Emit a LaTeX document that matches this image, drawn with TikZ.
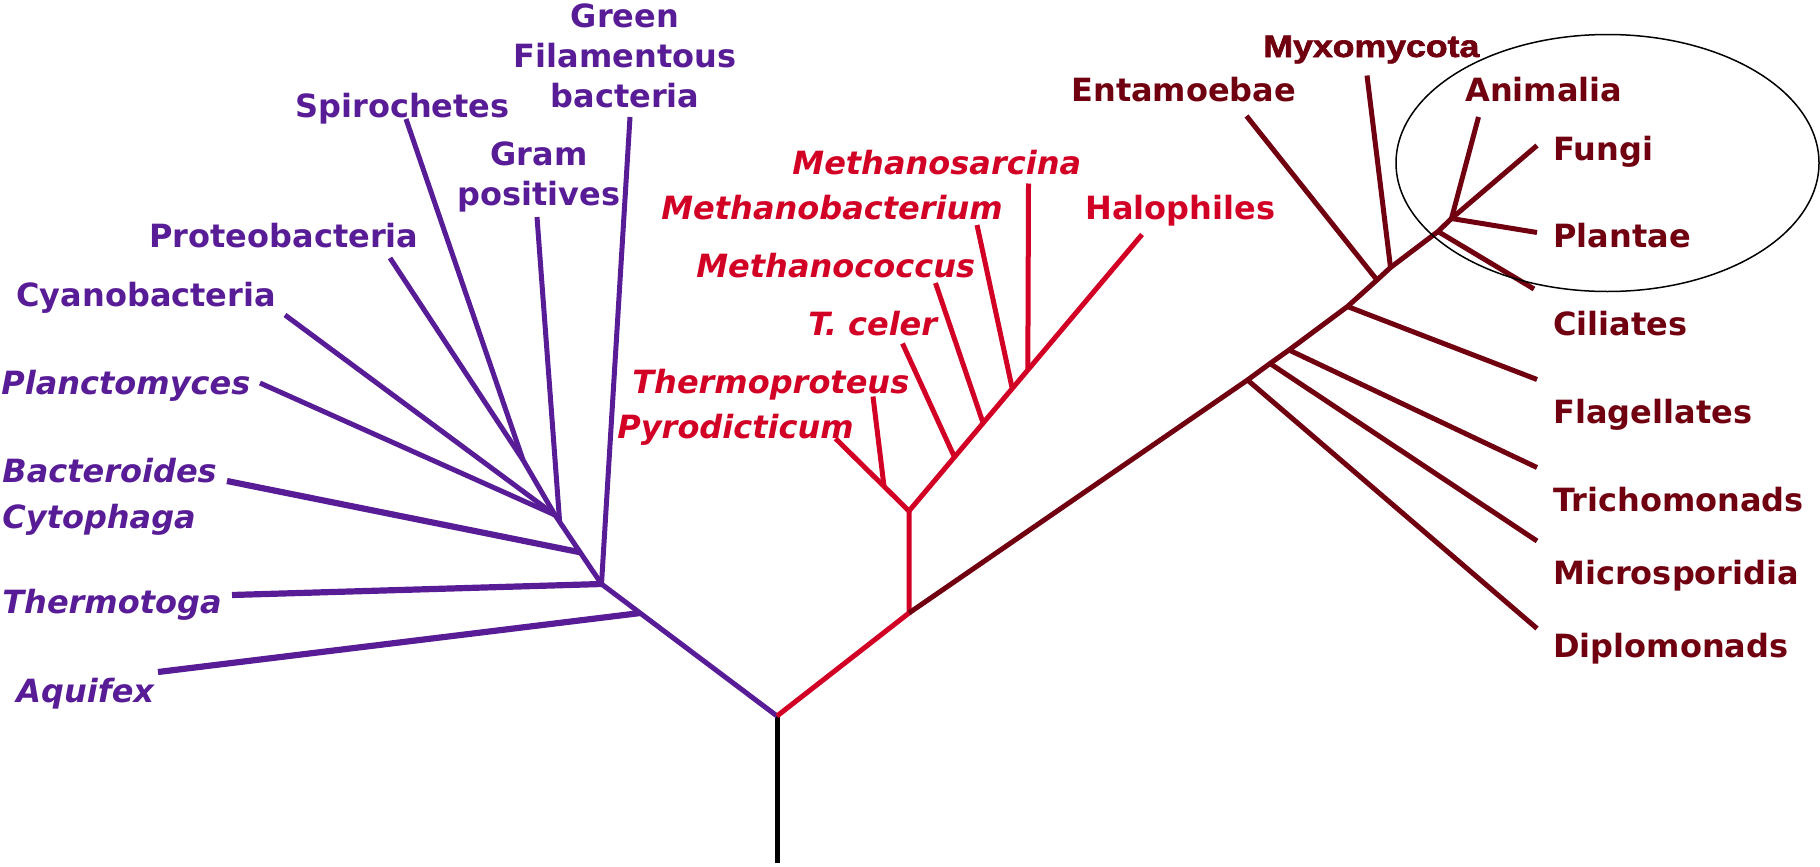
\documentclass[tikz,border=0pt]{standalone}
\usepackage{fontspec}
\setmainfont{DejaVu Sans}
\newfontfamily\myxofont{Liberation Sans Bold}[FakeBold=2]
\usetikzlibrary{calc}

\definecolor{bactcol}{RGB}{88,28,150}
\definecolor{archcol}{RGB}{210,0,36}
\definecolor{eukcol}{RGB}{112,0,16}

\begin{document}
\begin{tikzpicture}[x=0.5pt, y=-0.5pt,
    branch/.style={line width=2.5pt},
    wide branch/.style={line width=3.1pt},
    lbl/.style={inner sep=0pt, anchor=base west, font=\fontsize{16}{20}\selectfont\bfseries},
    ilbl/.style={lbl, font=\fontsize{16}{20}\selectfont\bfseries\itshape}]

        \pgfmathsetmacro{\W}{1820}
        \pgfmathsetmacro{\H}{867}
        \useasboundingbox (0,0) rectangle (\W,\H);

        % 1. 根と三つの分岐点
        \coordinate (base) at (777,863);
        \coordinate (root) at (777,716);
        \coordinate (bact) at (601.5,584);
        \coordinate (arch) at (909,613);
        \draw[branch] (base) -- (root);

        % 2. 細菌（紫）
        \begin{scope}[color=bactcol]
        \coordinate (jc) at (555,515);
        \coordinate (aqatt) at ($(root)!0.78!(bact)$);
        \coordinate (bcatt) at ($(bact)!0.46!(jc)$);
        \coordinate (gpatt) at ($(bact)!0.9!(jc)$);
        \coordinate (spnode) at (523,460);
        \coordinate (aqend) at (158,672);
        \coordinate (ttend) at (232,595);
        \coordinate (bcend) at (227,481);
        \coordinate (gpend) at (537,217);
        \coordinate (gfend) at (630,117);
        \coordinate (plend) at (260,383);
        \coordinate (cyend) at (285,315);
        \coordinate (prend) at (390,258);
        \coordinate (spend) at (406,119);

        \draw[branch] (root) -- (bact) -- (jc);
        \draw[wide branch] (aqatt) -- (aqend);
        \draw[wide branch] (bact) -- (ttend);
        \draw[wide branch] (bcatt) -- (bcend);
        \draw[branch] (gpatt) -- (gpend);
        \draw[branch] (bact) -- (gfend);
        \draw[branch] (jc) -- (plend);
        \draw[branch] (jc) -- (cyend);
        \draw[branch] (jc) -- (spnode) -- (prend);
        \draw[branch] (spnode) -- (spend);

        \node[lbl, anchor=base, align=center] (lgreen) at (625,107) {Green\\Filamentous\\bacteria};
        \node[lbl] (lspiro) at (295,117) {Spirochetes};
        \node[lbl, anchor=base, align=center] (lgram) at (539,205) {Gram\\positives};
        \node[lbl] (lproteo) at (149,247) {Proteobacteria};
        \node[lbl] (lcyano) at (16,306) {Cyanobacteria};
        \node[ilbl] (lplanc) at (1,394) {Planctomyces};
        \node[ilbl] (lbacte) at (2,482) {Bacteroides};
        \node[ilbl] (lcyto) at (2,528) {Cytophaga};
        \node[ilbl] (ltoga) at (2,613) {Thermotoga};
        \node[ilbl] (laqui) at (16,702) {Aquifex};
        \end{scope}

        % 3. 古細菌（赤）
        \begin{scope}[color=archcol]
        \coordinate (r2) at (909,511);
        \coordinate (pyend) at (835.5,438.5);
        \coordinate (haend) at (1142,234.5);
        \coordinate (tpatt) at ($(r2)!0.34!(pyend)$);
        \coordinate (tpend) at (873,396.5);

        \draw[branch] (root) -- (arch) -- (r2);
        \draw[branch] (pyend) -- (r2) -- (haend);
        \draw[branch] (tpatt) -- (tpend);
        \foreach \n/\t/\ex/\ey in {tc/0.195/902.5/343.5, mc/0.318/935.5/283,
                                   mb/0.443/977/225, ms/0.51/1028.5/183.5}{
            \coordinate (\n att) at ($(r2)!\t!(haend)$);
            \coordinate (\n end) at (\ex,\ey);
            \draw[branch] (\n att) -- (\n end);
        }

        \node[ilbl] (lsarc) at (792,174) {Methanosarcina};
        \node[ilbl] (lmbac) at (661,219) {Methanobacterium};
        \node[ilbl] (lmcoc) at (696,277) {Methanococcus};
        \node[ilbl] (lceler) at (808,335) {T. celer};
        \node[ilbl] (lproteus) at (632,393) {Thermoproteus};
        \node[ilbl] (lpyro) at (617,438) {Pyrodicticum};
        \node[lbl] (lhalo) at (1085,219) {Halophiles};
        \end{scope}

        % 4. 真核生物（暗赤）
        \begin{scope}[color=eukcol]
        \coordinate (dpatt) at (1247.5,380);
        \coordinate (miatt) at (1270,363.5);
        \coordinate (tratt) at (1289,350);
        \coordinate (flatt) at (1347.5,306.5);
        \coordinate (enatt) at (1377,280);
        \coordinate (myatt) at (1390.5,267.5);
        \coordinate (ciatt) at (1438,231.5);
        \coordinate (crown) at (1451.5,218.5);

        \draw[branch] (arch) -- (dpatt) -- (miatt) -- (tratt) -- (flatt)
            -- (enatt) -- (myatt) -- (ciatt) -- (crown);

        \coordinate (enend) at (1246.5,116);
        \coordinate (myend) at (1367,75.5);
        \coordinate (anend) at (1478.5,117);
        \draw[branch] (enatt) -- (enend);
        \draw[branch] (myatt) -- (myend);
        \draw[branch] (crown) -- (anend);

        \node[lbl] (lentam) at (1071,101) {Entamoebae};
        \node[lbl, font=\myxofont\fontsize{15.5}{18}\selectfont] (lmyxo) at (1263,57)
            {\scalebox{1.15}[1]{Myxomycota}};
        \node[lbl] (lanim) at (1465,101) {Animalia};

        % 右側の枝と名前
        \foreach \n/\from/\ey/\ty/\txt in {fu/crown/145.5/160/Fungi, pa/crown/232.5/247/Plantae,
                                           fl/flatt/379.5/423/Flagellates, tr/tratt/467.5/511/Trichomonads,
                                           mi/miatt/541/584/Microsporidia, dp/dpatt/628.5/657/Diplomonads}{
            \coordinate (\n end) at (1537,\ey);
            \draw[branch] (\from) -- (\n end);
            \node[lbl] (l\n) at (1553,\ty) {\txt};
        }
        \coordinate (ciend) at (1534,289);
        \draw[branch] (ciatt) -- (ciend);
        \node[lbl] (lci) at (1553,335) {Ciliates};
        \end{scope}

        % 5. 楕円（動物・菌類・植物）
        \coordinate (ovalc) at (1607.5,163);
        \draw[black, line width=0.75pt] (ovalc) ellipse [x radius=105.75pt, y radius=64.25pt];
    \end{tikzpicture}
\end{document}
